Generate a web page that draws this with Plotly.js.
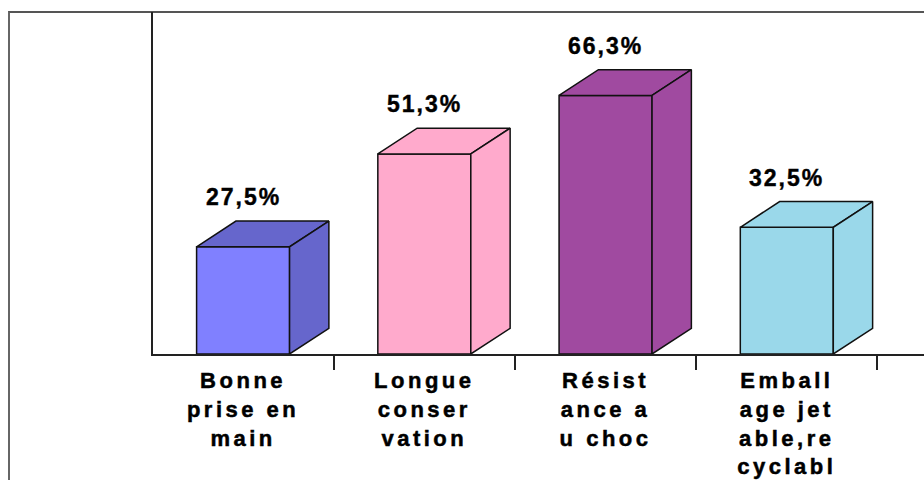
<!DOCTYPE html>
<html>
<head>
<meta charset="utf-8">
<script src="https://cdn.plot.ly/plotly-3.0.1.min.js"></script>
<style>
  html, body { margin: 0; padding: 0; background: #fff; overflow: hidden; }
  #wrap { position: relative; width: 924px; height: 480px; overflow: hidden; }
  #frame {
    position: absolute; left: 8px; top: 11px; width: 2000px; height: 2000px;
    border-left: 2px solid #666; border-top: 2px solid #555; box-sizing: border-box;
  }
  #chart { position: absolute; left: 0; top: 0; width: 924px; height: 480px; }
  #chart .xtick text { letter-spacing: 3.5px; stroke: #000; stroke-width: 0.5px; }
  #chart .annotation-text { letter-spacing: 2px; stroke: #000; stroke-width: 0.4px; }
</style>
</head>
<body>
<div id="wrap">
  <div id="frame"></div>
  <div id="chart"></div>
</div>
<script>
// Survey answers: share of respondents citing each packaging quality
const categories = [
  "Bonne<br>prise en<br>main",
  "Longue<br>conser<br>vation",
  "Résist<br>ance a<br>u choc",
  "Emball<br>age jet<br>able,re<br>cyclabl<br>e"
];
const values = [27.5, 51.3, 66.3, 32.5];
const frontColors = ["#8080FF", "#FFAACC", "#A04AA0", "#9AD8EA"];
const faceColors = ["#6666CC", "#FFAACC", "#A04AA0", "#9AD8EA"];

// Box geometry (category units on x, value units on y)
const barWidth = 0.513;
const depthX = 0.217;
const depthY = 6.6;
const xRange = [-0.497, 3.757];
const yRange = [0, 87.7];
const edge = { color: "#111", width: 1.5 };

const traces = [{
  type: "bar",
  x: categories,
  y: values,
  width: barWidth,
  marker: { color: frontColors, line: edge },
  hoverinfo: "skip"
}];

// Top and side faces of each box, built from the bar's value
values.forEach((v, i) => {
  const x0 = i - barWidth / 2, x1 = i + barWidth / 2;
  traces.push({
    type: "scatter", mode: "lines", xaxis: "x2", yaxis: "y",
    x: [x0, x1, x1 + depthX, x0 + depthX, x0],
    y: [v, v, v + depthY, v + depthY, v],
    fill: "toself", fillcolor: faceColors[i], line: edge, hoverinfo: "skip"
  });
  traces.push({
    type: "scatter", mode: "lines", xaxis: "x2", yaxis: "y",
    x: [x1, x1 + depthX, x1 + depthX, x1, x1],
    y: [0, depthY, v + depthY, v, 0],
    fill: "toself", fillcolor: faceColors[i], line: edge, hoverinfo: "skip"
  });
});

const annotations = values.map((v, i) => ({
  xref: "x2", yref: "y",
  x: i, y: v + depthY,
  text: v.toFixed(1).replace(".", ",") + "%",
  showarrow: false,
  xanchor: "center", yanchor: "bottom",
  yshift: 9,
  font: { family: "Liberation Sans, Arial, sans-serif", size: 23, color: "#000", weight: "bold" }
}));

const layout = {
  width: 924, height: 480,
  margin: { l: 153, r: 0, t: 12, b: 126 },
  paper_bgcolor: "rgba(0,0,0,0)",
  plot_bgcolor: "rgba(0,0,0,0)",
  showlegend: false,
  xaxis: {
    type: "category",
    range: xRange,
    tickson: "boundaries",
    ticks: "outside", ticklen: 14, tickwidth: 2, tickcolor: "#222",
    ticklabelstandoff: 6,
    showline: true, linecolor: "#222", linewidth: 2,
    showgrid: false, zeroline: false,
    tickfont: { family: "Liberation Sans, Arial, sans-serif", size: 22, color: "#000", weight: "bold" }
  },
  xaxis2: {
    overlaying: "x", range: xRange,
    showline: false, showgrid: false, zeroline: false,
    showticklabels: false, ticks: ""
  },
  yaxis: {
    range: yRange,
    showline: true, linecolor: "#222", linewidth: 2,
    showticklabels: false, ticks: "",
    showgrid: false, zeroline: false
  },
  annotations: annotations
};

Plotly.newPlot("chart", traces, layout, { staticPlot: true, displayModeBar: false });
</script>
</body>
</html>
